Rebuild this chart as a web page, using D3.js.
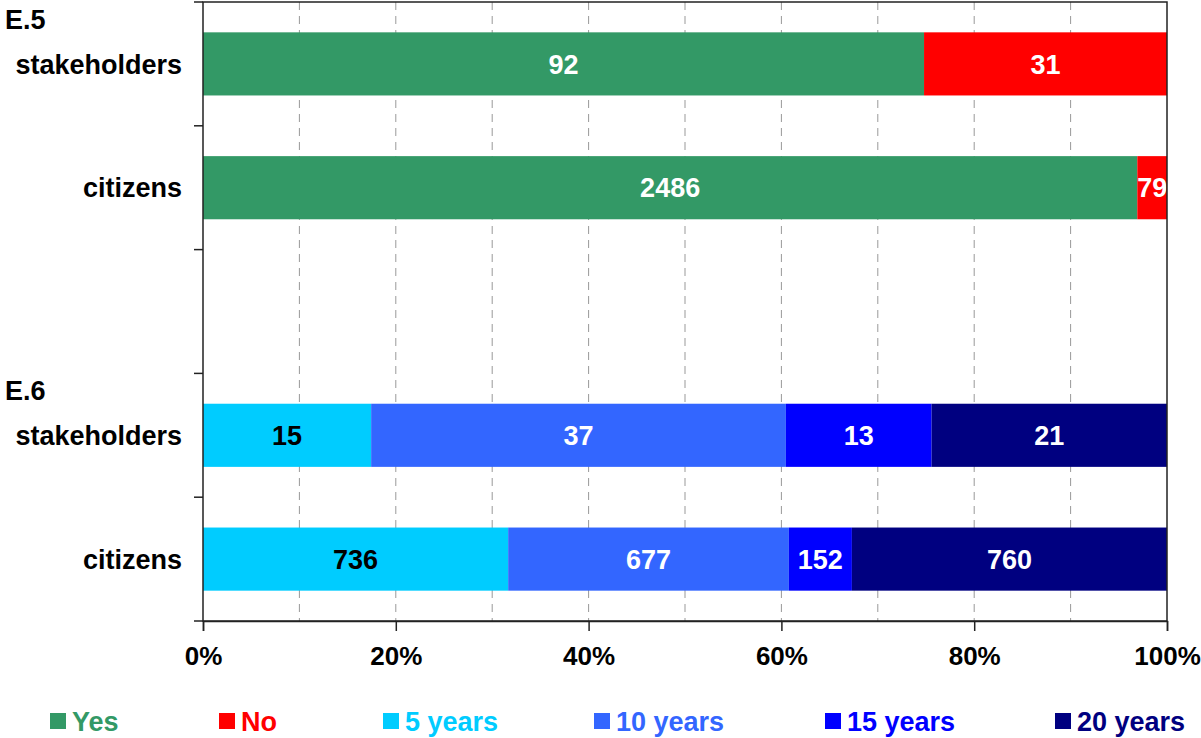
<!DOCTYPE html>
<html>
<head>
<meta charset="utf-8">
<script src="https://cdn.jsdelivr.net/npm/d3@7"></script>
<style>
  body { margin: 0; background: #fff; }
  text { font-family: "Liberation Sans", Arial, sans-serif; font-weight: bold; }
</style>
</head>
<body>
<script>
// --- data ---
const slots = ["E.5 stakeholders", "E.5 citizens", "gap", "E.6 stakeholders", "E.6 citizens"];
const slotLabels = ["stakeholders", "citizens", "", "stakeholders", "citizens"];
const groupLabels = [{ slot: 0, text: "E.5" }, { slot: 3, text: "E.6" }];
const seriesNames = ["Yes", "No", "5 years", "10 years", "15 years", "20 years"];
const seriesColors = ["#339966", "#FF0000", "#00CCFF", "#3366FF", "#0000FF", "#000080"];
const labelColors = ["#fff", "#fff", "#000", "#fff", "#fff", "#fff"];
const e5Stakeholders = [92, 31, 0, 0, 0, 0];
const e5Citizens = [2486, 79, 0, 0, 0, 0];
const e6Stakeholders = [0, 0, 15, 37, 13, 21];
const e6Citizens = [0, 0, 736, 677, 152, 760];
const xTicks = [0, 0.2, 0.4, 0.6, 0.8, 1];
const gridTicks = [0.1, 0.2, 0.3, 0.4, 0.5, 0.6, 0.7, 0.8, 0.9];

const rows = [
  { slot: slots[0], values: e5Stakeholders },
  { slot: slots[1], values: e5Citizens },
  { slot: slots[3], values: e6Stakeholders },
  { slot: slots[4], values: e6Citizens }
];

// --- svg setup ---
const W = 1201, H = 738;
const margin = { top: 2, left: 203, right: 34, bottom: 117 };
const width = W - margin.left - margin.right, height = H - margin.top - margin.bottom;

const root = d3.select("body").append("svg").attr("width", W).attr("height", H);
const svg = root.append("g").attr("transform", `translate(${margin.left},${margin.top})`);

const x = d3.scaleLinear().domain([0, 1]).range([0, width]);
const y = d3.scaleBand().domain(slots).range([0, height]).paddingInner(0.49).paddingOuter(0.245);
const color = d3.scaleOrdinal().domain(seriesNames).range(seriesColors);
const step = y.step();

// gridlines
svg.append("g").selectAll("line").data(gridTicks).enter().append("line")
  .attr("x1", d => x(d)).attr("x2", d => x(d))
  .attr("y1", 0).attr("y2", height)
  .attr("stroke", "#999").attr("stroke-width", 1).attr("stroke-dasharray", "8,6");

// bars
rows.forEach(r => {
  const total = d3.sum(r.values);
  let acc = 0;
  const segs = [];
  r.values.forEach((v, i) => {
    if (v > 0) { segs.push({ name: seriesNames[i], i: i, v: v, x0: acc / total, x1: (acc + v) / total }); acc += v; }
  });
  const g = svg.append("g");
  g.selectAll("rect").data(segs).enter().append("rect")
    .attr("x", d => x(d.x0)).attr("width", d => x(d.x1) - x(d.x0))
    .attr("y", y(r.slot)).attr("height", y.bandwidth())
    .attr("fill", d => color(d.name));
  g.selectAll("text").data(segs).enter().append("text")
    .attr("x", d => (x(d.x0) + x(d.x1)) / 2)
    .attr("y", y(r.slot) + y.bandwidth() / 2)
    .attr("dy", "0.36em")
    .attr("text-anchor", "middle")
    .attr("font-size", 27)
    .attr("fill", d => labelColors[d.i])
    .text(d => d.v);
});

// frame
svg.append("rect").attr("x", 0).attr("y", 0).attr("width", width).attr("height", height)
  .attr("fill", "none").attr("stroke", "#222").attr("stroke-width", 1.5);

// y ticks at slot boundaries
const yTickPos = d3.range(slots.length + 1).map(i => i * step);
svg.append("g").selectAll("line").data(yTickPos).enter().append("line")
  .attr("x1", -9).attr("x2", 0).attr("y1", d => d).attr("y2", d => d)
  .attr("stroke", "#222").attr("stroke-width", 1.5);

// x axis
const xAxis = svg.append("g").attr("transform", `translate(0,${height})`)
  .call(d3.axisBottom(x).tickValues(xTicks).tickFormat(d3.format(".0%")).tickSize(10).tickPadding(16));
xAxis.select(".domain").attr("stroke", "#222").attr("stroke-width", 1.5);
xAxis.selectAll(".tick line").attr("stroke", "#222").attr("stroke-width", 1.5);
xAxis.selectAll("text").attr("font-size", 26).attr("fill", "#000")
  .style("font-family", "'Liberation Sans', Arial, sans-serif").style("font-weight", "bold");

// category labels
svg.append("g").selectAll("text").data(slots.filter((s, i) => slotLabels[i])).enter().append("text")
  .attr("x", -21)
  .attr("y", d => y(d) + y.bandwidth() / 2)
  .attr("dy", "0.36em")
  .attr("text-anchor", "end")
  .attr("font-size", 27)
  .text(d => slotLabels[slots.indexOf(d)]);

svg.append("g").selectAll("text").data(groupLabels).enter().append("text")
  .attr("x", 5 - margin.left)
  .attr("y", d => d.slot * step + 27)
  .attr("font-size", 27)
  .text(d => d.text);

// legend
const legendX = [50, 219, 383, 594, 825, 1055];
const legend = root.append("g").attr("transform", "translate(0,713)");
const le = legend.selectAll("g").data(seriesNames).enter().append("g")
  .attr("transform", (d, i) => `translate(${legendX[i]},0)`);
le.append("rect").attr("width", 16).attr("height", 16).attr("fill", d => color(d));
le.append("text").attr("x", 22).attr("y", 8).attr("dy", "0.36em")
  .attr("font-size", 27).attr("fill", d => color(d)).text(d => d);
</script>
</body>
</html>
